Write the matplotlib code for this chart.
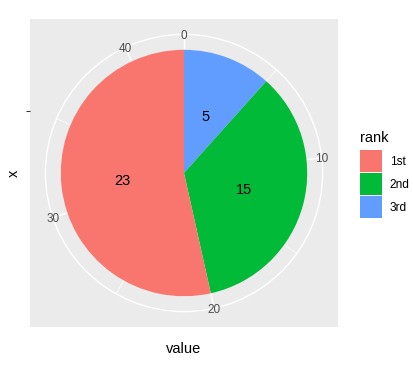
import numpy as np
import matplotlib
matplotlib.use("Agg")
import matplotlib.pyplot as plt
from matplotlib.patches import Patch, Circle

plt.rcParams['font.family'] = ['Liberation Sans', 'DejaVu Sans']

# data
ranks = ['1st', '2nd', '3rd']
values = [23, 15, 5]
colors = ['#F8766D', '#00BA38', '#619CFF']
major_breaks = [0, 10, 20, 30, 40]
minor_breaks = [5, 15, 25, 35]

W, H = 414, 374
fig = plt.figure(figsize=(W / 100, H / 100), dpi=100)
ax = fig.add_axes([30 / W, 47 / H, 308 / W, 308 / H])
ax.set_facecolor('#EBEBEB')
for s in ax.spines.values():
    s.set_visible(False)

total = sum(values)

def theta(v):
    return 2 * np.pi * v / total

# grid
ax.add_patch(Circle((0, 0), 0.45, fill=False, ec='white', lw=1.0, zorder=1))
ax.add_patch(Circle((0, 0), 0.2, fill=False, ec='white', lw=1.0, zorder=1))
for b in major_breaks:
    t = theta(b)
    ax.plot([0, 0.45 * np.sin(t)], [0, 0.45 * np.cos(t)], color='white', lw=1.0, zorder=1)
for b in minor_breaks:
    t = theta(b)
    ax.plot([0, 0.45 * np.sin(t)], [0, 0.45 * np.cos(t)], color='white', lw=0.5, zorder=1)

# pie, stacked in reverse order clockwise from top
order = list(range(len(values)))[::-1]
ax.pie([values[i] for i in order], colors=[colors[i] for i in order], radius=0.4,
       startangle=90, counterclock=False, center=(0, 0), frame=True,
       wedgeprops=dict(linewidth=0, zorder=2))
ax.set_xlim(-0.5, 0.5)
ax.set_ylim(-0.5, 0.5)
ax.set_aspect('auto')

# value labels
cum = 0
for i in order:
    mid = cum + values[i] / 2
    t = theta(mid)
    ax.text(0.2 * np.sin(t), 0.2 * np.cos(t), str(values[i]), ha='center',
            va='center_baseline', fontsize=10.56, color='black', zorder=3)
    cum += values[i]

# theta tick labels
for b in major_breaks:
    t = theta(b)
    ax.text(0.45 * np.sin(t), 0.45 * np.cos(t), str(b), ha='center',
            va='center_baseline', fontsize=8.45, color='#4D4D4D', zorder=3)

# axes
ax.set_xticks([])
ax.set_yticks([0.2])
ax.set_yticklabels([''])
ax.tick_params(axis='y', length=3.67 * 0.72, width=0.75, color='#333333')
ax.set_xlabel('value', fontsize=10.56, labelpad=10.5)
ax.set_ylabel('x', fontsize=10.56)
ax.yaxis.set_label_coords(-0.029, 0.5)

handles = [Patch(facecolor=c, edgecolor='none') for c in colors]
leg = fig.legend(handles, ranks, title='rank', loc='upper left',
                 bbox_to_anchor=(360 / W, 1 - 131 / H), frameon=False,
                 fontsize=8.6, title_fontsize=10.56, handlelength=1.842,
                 handleheight=2.47, labelspacing=0.084, handletextpad=0.65,
                 borderpad=0, borderaxespad=0, alignment='left')
leg._legend_box.sep = 0.72 + 2.9

fig.savefig('out.png', dpi=100)
